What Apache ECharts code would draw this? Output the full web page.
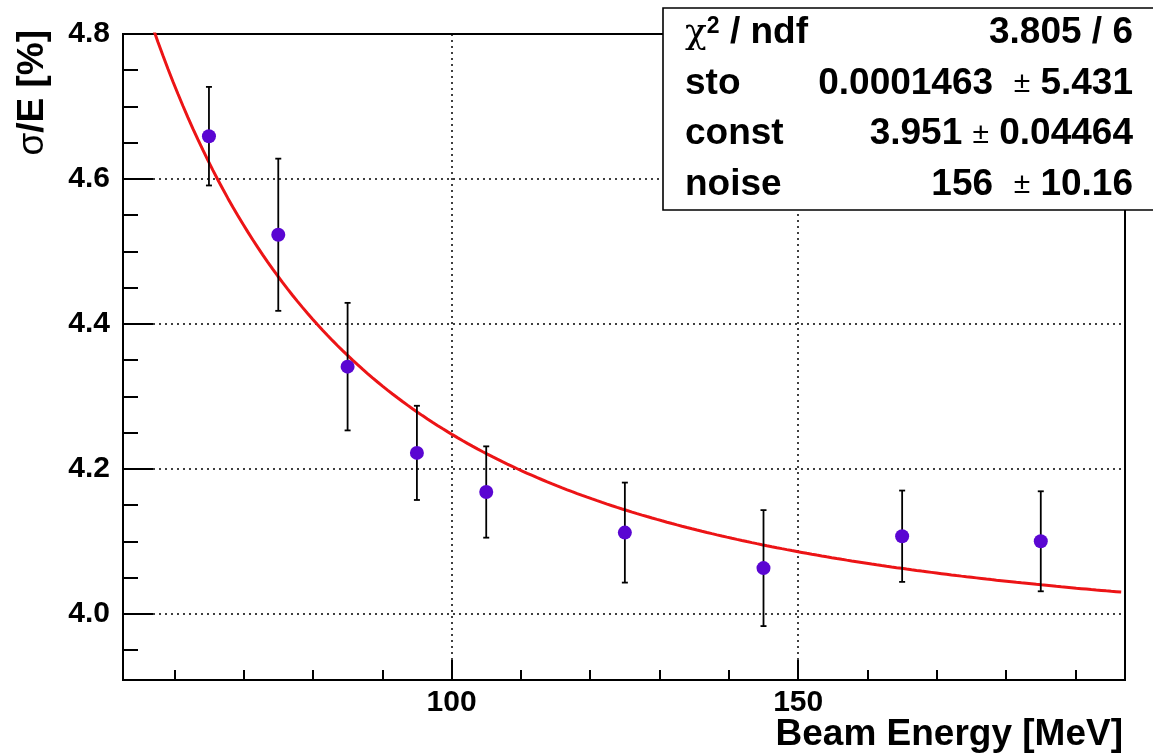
<!DOCTYPE html>
<html>
<head>
<meta charset="utf-8">
<title>Energy resolution vs beam energy</title>
<script src="https://cdn.jsdelivr.net/npm/echarts@6/dist/echarts.min.js"></script>
<style>
  html, body { margin: 0; padding: 0; background: #fff; }
  #chart { width: 1153px; height: 755px; }
</style>
</head>
<body>
<div id="chart"></div>
<script>
// Measured resolution points: beam energy [MeV], sigma/E [%], symmetric error
const beamEnergy = [65, 75, 85, 95, 105, 125, 145, 165, 185];
const resolution = [4.659, 4.523, 4.341, 4.222, 4.168, 4.112, 4.063, 4.107, 4.100];
const resolutionErr = [0.068, 0.105, 0.088, 0.065, 0.063, 0.069, 0.080, 0.063, 0.069];

// Fit results (stochastic, constant and noise terms)
const fitSto = 0.0001463;
const fitConst = 3.951;
const fitNoise = 156;
const fitRange = [52.6, 196.6];

// Stats box rows
const statsNames = ['ndf', 'sto', 'const', 'noise'];
const statsValues = ['3.805 / 6', '0.0001463  ± 5.431', '3.951 ± 0.04464', '156  ± 10.16'];

// Axis ranges and tick positions
const X_MIN = 52.6, X_MAX = 197.15;
const Y_MIN = 3.9086, Y_MAX = 4.8;
const xMajorTicks = [100, 150];
const xMinorTicks = [60, 70, 80, 90, 110, 120, 130, 140, 160, 170, 180, 190];
const yMajorTicks = [4.0, 4.2, 4.4, 4.6, 4.8];
const yMinorTicks = [3.95, 4.05, 4.1, 4.15, 4.25, 4.3, 4.35, 4.45, 4.5, 4.55, 4.65, 4.7, 4.75];

// Resolution function: sqrt(sto^2/E + const^2 + (noise/E)^2)
function resolutionModel(e) {
  return Math.sqrt(fitSto * fitSto / e + fitConst * fitConst + (fitNoise / e) * (fitNoise / e));
}
const fitCurve = [];
const nSteps = 200;
for (let i = 0; i <= nSteps; i++) {
  const e = fitRange[0] + (fitRange[1] - fitRange[0]) * i / nSteps;
  fitCurve.push([e, resolutionModel(e)]);
}

const points = beamEnergy.map((e, i) => [e, resolution[i]]);
const errBars = beamEnergy.map((e, i) => [e, resolution[i], resolutionErr[i]]);

const HELV = '"Liberation Sans", Arial, sans-serif';
const SERIF = '"DejaVu Serif", serif';
const gridDots = { type: [2, 4], color: '#000', width: 1.5 };

const chart = echarts.init(document.getElementById('chart'), null, { renderer: 'canvas' });

// Stats box: four equal rows between y = 8 and y = 210
const boxTop = 8, boxBottom = 210;
const statsLeft = 685, statsRight = 1133;
const rowH = (boxBottom - boxTop) / statsNames.length;
const statsTexts = [];
const statRich = {
  chi: { fontFamily: SERIF, fontWeight: 'normal', fontSize: 36 },
  sup: { fontFamily: HELV, fontWeight: 'bold', fontSize: 23, verticalAlign: 'top' },
  pm: { fontFamily: HELV, fontWeight: 'normal', fontSize: 30 }
};
statsNames.forEach((name, i) => {
  const yc = boxTop + rowH * (i + 0.5);
  statsTexts.push({
    type: 'text', x: statsLeft, y: yc, z: 101,
    style: {
      text: i === 0 ? '{chi|χ}{sup|2} / ' + name : name,
      align: 'left', verticalAlign: 'middle',
      font: 'bold 37px ' + HELV, fill: '#000', rich: statRich
    }
  });
  statsTexts.push({
    type: 'text', x: statsRight, y: yc, z: 101,
    style: {
      text: statsValues[i].replace('±', '{pm|±}'),
      align: 'right', verticalAlign: 'middle',
      font: 'bold 37px ' + HELV, fill: '#000', rich: statRich
    }
  });
});

const labelFont = { fontFamily: HELV, fontWeight: 'bold', fontSize: 30, color: '#000' };

const option = {
  backgroundColor: '#fff',
  animation: false,
  grid: {
    left: 123, right: 28, top: 34, bottom: 75,
    show: true, borderColor: '#000', borderWidth: 2,
    outerBoundsMode: 'none'
  },
  xAxis: [
    {
      type: 'value', position: 'bottom', min: X_MIN, max: X_MAX,
      axisLine: { show: true, lineStyle: { color: '#000', width: 2 } },
      axisTick: { show: true, inside: true, length: 20, customValues: xMajorTicks,
                  lineStyle: { color: '#000', width: 2 } },
      axisLabel: Object.assign({ show: true, customValues: xMajorTicks, margin: 8 }, labelFont),
      splitLine: { show: true, lineStyle: gridDots }
    },
    {
      type: 'value', position: 'bottom', min: X_MIN, max: X_MAX,
      axisLine: { show: false },
      axisTick: { show: true, inside: true, length: 10, customValues: xMinorTicks,
                  lineStyle: { color: '#000', width: 2 } },
      axisLabel: { show: false },
      splitLine: { show: false }
    }
  ],
  yAxis: [
    {
      type: 'value', position: 'left', min: Y_MIN, max: Y_MAX,
      axisLine: { show: true, lineStyle: { color: '#000', width: 2 } },
      axisTick: { show: true, inside: true, length: 30, customValues: yMajorTicks,
                  lineStyle: { color: '#000', width: 2 } },
      axisLabel: Object.assign({ show: true, customValues: yMajorTicks, margin: 13,
                                 formatter: v => Number(v).toFixed(1) }, labelFont),
      splitLine: { show: true, lineStyle: gridDots }
    },
    {
      type: 'value', position: 'left', min: Y_MIN, max: Y_MAX,
      axisLine: { show: false },
      axisTick: { show: true, inside: true, length: 15, customValues: yMinorTicks,
                  lineStyle: { color: '#000', width: 2 } },
      axisLabel: { show: false },
      splitLine: { show: false }
    }
  ],
  series: [
    {
      name: 'fit', type: 'line', xAxisIndex: 0, yAxisIndex: 0,
      data: fitCurve, showSymbol: false, smooth: false, clip: true,
      lineStyle: { color: '#ec1416', width: 3 }, z: 3
    },
    {
      name: 'errors', type: 'custom', xAxisIndex: 0, yAxisIndex: 0,
      data: errBars, encode: { x: 0, y: 1 }, clip: true, z: 4,
      renderItem: function (params, api) {
        const x = api.value(0), y = api.value(1), e = api.value(2);
        const top = api.coord([x, y + e]);
        const bot = api.coord([x, y - e]);
        const cap = 3;
        const st = { stroke: '#000', lineWidth: 1.8 };
        return {
          type: 'group',
          children: [
            { type: 'line', shape: { x1: top[0], y1: top[1], x2: bot[0], y2: bot[1] }, style: st },
            { type: 'line', shape: { x1: top[0] - cap, y1: top[1], x2: top[0] + cap, y2: top[1] }, style: st },
            { type: 'line', shape: { x1: bot[0] - cap, y1: bot[1], x2: bot[0] + cap, y2: bot[1] }, style: st }
          ]
        };
      }
    },
    {
      name: 'data', type: 'scatter', xAxisIndex: 0, yAxisIndex: 0,
      data: points, symbol: 'circle', symbolSize: 14,
      itemStyle: { color: '#5a06d2', opacity: 1 }, z: 5
    }
  ],
  graphic: [
    {
      type: 'rect', z: 100,
      shape: { x: 663, y: boxTop, width: 520, height: boxBottom - boxTop },
      style: { fill: '#fff', stroke: '#000', lineWidth: 1.6 }
    },
    ...statsTexts,
    {
      type: 'text', x: 33, y: 30, rotation: Math.PI / 2, z: 100,
      style: {
        text: '{s|σ}/E [%]', align: 'right', verticalAlign: 'middle',
        font: 'bold 37px ' + HELV, fill: '#000',
        rich: { s: { fontFamily: HELV, fontWeight: 'normal', fontSize: 37 } }
      }
    },
    {
      type: 'text', x: 1123, y: 735, z: 100,
      style: {
        text: 'Beam Energy [MeV]', align: 'right', verticalAlign: 'middle',
        font: 'bold 37px ' + HELV, fill: '#000'
      }
    }
  ]
};

chart.setOption(option);
</script>
</body>
</html>
